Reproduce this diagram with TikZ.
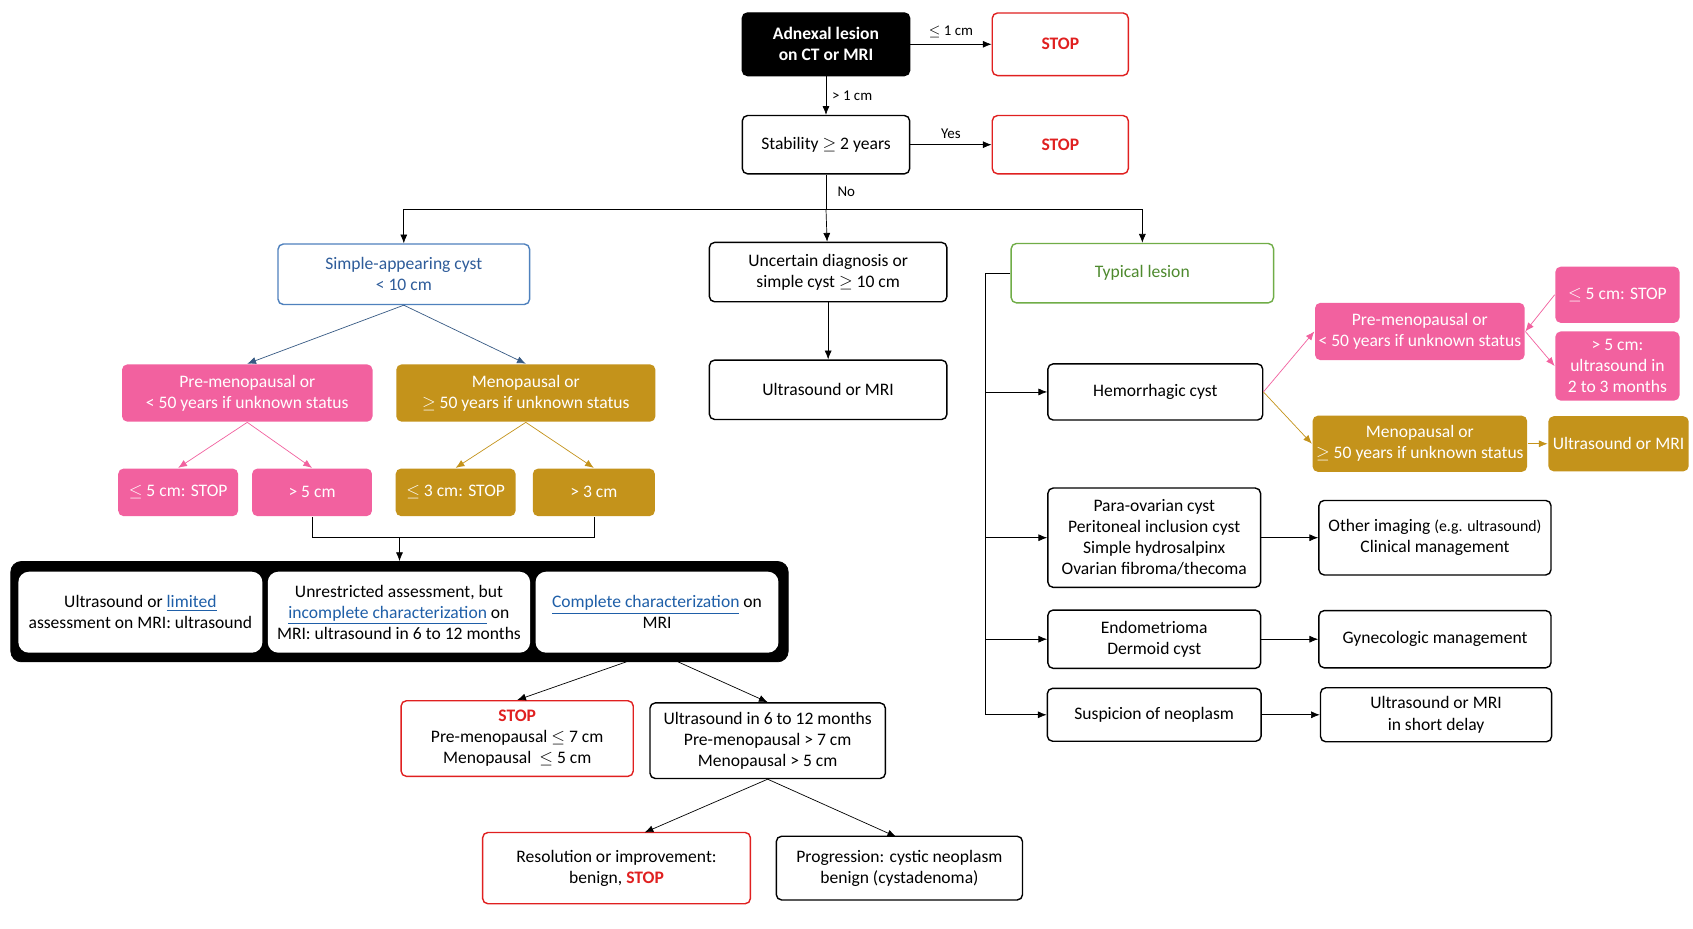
\documentclass[tikz,border=0pt]{standalone}
\usepackage{fontspec}
\setmainfont{Carlito}
\usepackage{amssymb}
\usetikzlibrary{arrows.meta}
\definecolor{pinkc}{HTML}{F2619F}
\definecolor{goldc}{HTML}{C4931B}
\definecolor{blueb}{HTML}{4F81BD}
\definecolor{bluet}{HTML}{2E5C9A}
\definecolor{greenb}{HTML}{70AD47}
\definecolor{greent}{HTML}{4E8A2E}
\definecolor{redc}{HTML}{E02020}
\definecolor{linkc}{HTML}{1F5FA8}
\newcommand{\lnk}[1]{\textcolor{linkc}{\underline{#1}}}
\newcommand{\stp}{\textcolor{redc}{\textbf{STOP}}}
\tikzset{
  box/.style={draw,rounded corners=3pt,thick,align=center,inner sep=2pt,
    font=\fontsize{10}{12}\selectfont},
  plain/.style={box,black},
  redbox/.style={box,draw=redc},
  pinkbox/.style={box,draw=none,fill=pinkc,text=white},
  goldbox/.style={box,draw=none,fill=goldc,text=white},
  conn/.style={-{Latex[length=5pt,width=4pt]},thin},
  lab/.style={font=\fontsize{8.5}{10}\selectfont}
}
\newcommand{\bx}[6]{\node[#1,minimum width=#4*0.0216cm,minimum height=#5*0.0216cm] (#6) at (#2,#3) {};}
\begin{document}
\begin{tikzpicture}[x=0.0216cm,y=-0.0216cm]
\useasboundingbox[fill=white] (0,0) rectangle (1568,860);
% top part
\node[box,fill=black,text=white,font=\fontsize{10}{12}\selectfont\bfseries,minimum width=155*0.0216cm,minimum height=58*0.0216cm] (lesion) at (765,41) {Adnexal lesion\\on CT or MRI};
\node[redbox,minimum width=126*0.0216cm,minimum height=58*0.0216cm] (stopa) at (982,41) {\stp};
\node[plain,minimum width=155*0.0216cm,minimum height=54*0.0216cm] (stab) at (765,134) {Stability $\geq$ 2 years};
\node[redbox,minimum width=126*0.0216cm,minimum height=54*0.0216cm] (stopb) at (982,134) {\stp};
\draw[conn] (lesion) -- node[lab,above] {$\leq$ 1 cm} (stopa);
\draw[conn] (lesion) -- node[lab,right] {> 1 cm} (stab);
\draw[conn] (stab) -- node[lab,above] {Yes} (stopb);
% three branches
\node[box,draw=blueb,text=bluet,minimum width=233*0.0216cm,minimum height=56*0.0216cm] (simple) at (374,254) {Simple-appearing cyst\\< 10 cm};
\node[plain,minimum width=220*0.0216cm,minimum height=55*0.0216cm] (uncert) at (767,252) {Uncertain diagnosis or\\simple cyst $\geq$ 10 cm};
\node[box,draw=greenb,text=greent,minimum width=243*0.0216cm,minimum height=55*0.0216cm] (typical) at (1058,253) {Typical lesion};
\coordinate (split) at (765,194);
\draw (stab) -- (split);
\node[lab,right] at (770,178) {No};
\draw[conn] (split) -| (simple);
\draw[conn] (split) -- (uncert);
\draw[conn] (split) -| (typical);
\node[plain,minimum width=220*0.0216cm,minimum height=55*0.0216cm] (usmri) at (767,361) {Ultrasound or MRI};
\draw[conn] (uncert) -- (usmri);
% simple cyst branch
\node[pinkbox,minimum width=232*0.0216cm,minimum height=53*0.0216cm] (pre) at (229,364) {Pre-menopausal or\\< 50 years if unknown status};
\node[goldbox,minimum width=240*0.0216cm,minimum height=53*0.0216cm] (meno) at (487,364) {Menopausal or\\$\geq$ 50 years if unknown status};
\draw[conn,blueb!70!black] (simple.south) -- (pre.north);
\draw[conn,blueb!70!black] (simple.south) -- (meno.north);
\node[pinkbox,minimum width=111*0.0216cm,minimum height=44*0.0216cm] (prele) at (165,456) {$\leq$ 5 cm: STOP};
\node[pinkbox,minimum width=111*0.0216cm,minimum height=44*0.0216cm] (pregt) at (289,456) {> 5 cm};
\node[goldbox,minimum width=111*0.0216cm,minimum height=44*0.0216cm] (menole) at (422,456) {$\leq$ 3 cm: STOP};
\node[goldbox,minimum width=113*0.0216cm,minimum height=44*0.0216cm] (menogt) at (550,456) {> 3 cm};
\draw[conn,pinkc] (pre.south) -- (prele.north);
\draw[conn,pinkc] (pre.south) -- (pregt.north);
\draw[conn,goldc] (meno.south) -- (menole.north);
\draw[conn,goldc] (meno.south) -- (menogt.north);
% assessment block
\node[draw=black,fill=black,rounded corners=6pt,minimum width=720*0.0216cm,minimum height=93*0.0216cm] (assess) at (370,566.5) {};
\node[box,draw=none,fill=white,rounded corners=6pt,minimum width=226*0.0216cm,minimum height=75*0.0216cm] (asa) at (130,567) {Ultrasound or \lnk{limited}\\assessment on MRI: ultrasound};
\node[box,draw=none,fill=white,rounded corners=6pt,minimum width=243*0.0216cm,minimum height=75*0.0216cm] (asb) at (369.5,567) {Unrestricted assessment, but\\\lnk{incomplete characterization} on\\MRI: ultrasound in 6 to 12 months};
\node[box,draw=none,fill=white,rounded corners=6pt,minimum width=225*0.0216cm,minimum height=75*0.0216cm] (asc) at (608.5,567) {\lnk{Complete characterization} on\\MRI};
\draw (pregt.south) -- (289,498) -| (menogt.south);
\draw[conn] (370,498) -- (assess.north);
\coordinate (outa) at (580,613);
\coordinate (outb) at (628,613);
\node[redbox,minimum width=215*0.0216cm,minimum height=70*0.0216cm] (stopc) at (479,684) {\stp\\Pre-menopausal $\leq$ 7 cm\\Menopausal\ \ $\leq$ 5 cm};
\node[plain,minimum width=218*0.0216cm,minimum height=70*0.0216cm] (us612) at (711,686) {Ultrasound in 6 to 12 months\\Pre-menopausal > 7 cm\\Menopausal > 5 cm};
\draw[conn] (outa) -- (stopc.north);
\draw[conn] (outb) -- (us612.north);
\node[redbox,minimum width=248*0.0216cm,minimum height=66*0.0216cm] (resol) at (571,804) {Resolution or improvement:\\benign, \stp};
\node[plain,minimum width=228*0.0216cm,minimum height=59*0.0216cm] (progr) at (833,804) {Progression: cystic neoplasm\\benign (cystadenoma)};
\draw[conn] (us612.south) -- (597,771);
\draw[conn] (us612.south) -- (830,775);
% typical lesion branch
\node[plain,minimum width=199*0.0216cm,minimum height=52*0.0216cm] (hemo) at (1070,363) {Hemorrhagic cyst};
\node[plain,minimum width=197*0.0216cm,minimum height=92*0.0216cm] (para) at (1069,498) {Para-ovarian cyst\\Peritoneal inclusion cyst\\Simple hydrosalpinx\\Ovarian fibroma/thecoma};
\node[plain,minimum width=197*0.0216cm,minimum height=54*0.0216cm] (endo) at (1069,592) {Endometrioma\\Dermoid cyst};
\node[plain,minimum width=198*0.0216cm,minimum height=49*0.0216cm] (susp) at (1069,662) {Suspicion of neoplasm};
\draw (typical.west) -- (913,253) -- (913,662);
\foreach \n/\y in {hemo/363,para/498,endo/592,susp/662}
  \draw[conn] (913,\y) -- (\n.west);
\node[pinkbox,minimum width=185*0.0216cm,minimum height=53*0.0216cm] (preb) at (1315,307) {Pre-menopausal or\\< 50 years if unknown status};
\node[goldbox,minimum width=186*0.0216cm,minimum height=52*0.0216cm] (menob) at (1315,411) {Menopausal or\\$\geq$ 50 years if unknown status};
\draw[conn,pinkc] (hemo.east) -- (preb.west);
\draw[conn,goldc] (hemo.east) -- (menob.west);
\node[pinkbox,minimum width=115*0.0216cm,minimum height=52*0.0216cm] (prebl) at (1498,273) {$\leq$ 5 cm: STOP};
\node[pinkbox,minimum width=115*0.0216cm,minimum height=64*0.0216cm] (prebg) at (1498,339) {> 5 cm:\\ultrasound in\\2 to 3 months};
\draw[conn,pinkc] (prebl.west) -- (preb.east);
\draw[conn,pinkc] (preb.east) -- (prebg.west);
\node[goldbox,minimum width=130*0.0216cm,minimum height=51*0.0216cm] (menobus) at (1499,411) {Ultrasound or MRI};
\draw[conn,goldc] (menob) -- (menobus);
\node[plain,minimum width=215*0.0216cm,minimum height=69*0.0216cm] (other) at (1329,498) {Other imaging {\fontsize{9}{11}\selectfont(e.g. ultrasound)}\\Clinical management};
\node[plain,minimum width=215*0.0216cm,minimum height=53*0.0216cm] (gyn) at (1329,592) {Gynecologic management};
\node[plain,minimum width=214*0.0216cm,minimum height=50*0.0216cm] (usdel) at (1330,662) {Ultrasound or MRI\\in short delay};
\draw[conn] (para) -- (other);
\draw[conn] (endo) -- (gyn);
\draw[conn] (susp) -- (usdel);
\end{tikzpicture}
\end{document}
